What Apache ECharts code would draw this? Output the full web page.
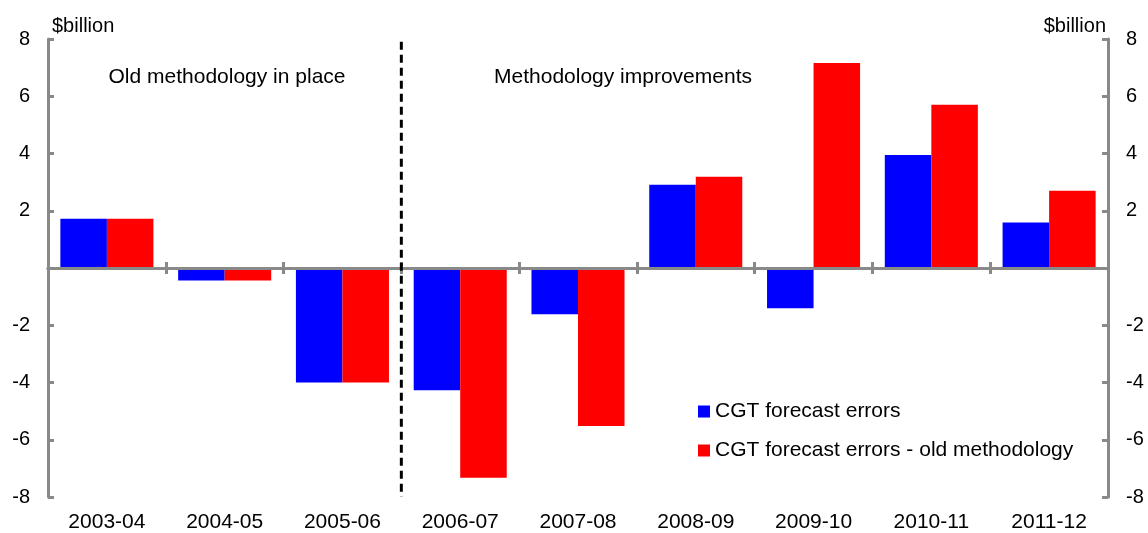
<!DOCTYPE html>
<html>
<head>
<meta charset="utf-8">
<script src="https://cdn.jsdelivr.net/npm/echarts@6/dist/echarts.min.js"></script>
<style>
html,body{margin:0;padding:0;background:#fff;}
#chart{width:1148px;height:533px;}
</style>
</head>
<body>
<div id="chart"></div>
<script>
var categories = ['2003-04','2004-05','2005-06','2006-07','2007-08','2008-09','2009-10','2010-11','2011-12'];
var cgtErrors = [1.72, -0.44, -4.0, -4.27, -1.62, 2.91, -1.41, 3.95, 1.59];
var cgtErrorsOld = [1.72, -0.44, -4.0, -7.33, -5.52, 3.19, 7.16, 5.70, 2.70];
var seriesNames = ['CGT forecast errors', 'CGT forecast errors - old methodology'];
var yTicks = {min: -8, max: 8, interval: 2};
var dividerLine = [[3, 7.9], [3, -8]];
var annotations = ['Old methodology in place', 'Methodology improvements'];
var unitLabel = '$billion';

var FONT = '"Liberation Sans", Arial, sans-serif';
var GRAY = '#898989';

var chart = echarts.init(document.getElementById('chart'), null, {renderer: 'canvas'});

function yAxisCfg(pos) {
  return {
    type: 'value', position: pos,
    min: yTicks.min, max: yTicks.max, interval: yTicks.interval,
    axisLine: {show: true, lineStyle: {color: GRAY, width: 3}},
    axisTick: {show: true, inside: true, length: 6, lineStyle: {color: GRAY, width: 3}},
    splitLine: {show: false},
    axisLabel: {
      margin: 18, fontSize: 20, color: '#000', fontFamily: FONT,
      formatter: function (v) { return v === 0 ? '' : String(v); }
    }
  };
}

function zeroAxis(inside) {
  return {
    type: 'category', data: categories, position: 'bottom', z: 5,
    axisLine: {show: true, onZero: true, lineStyle: {color: GRAY, width: 3}},
    axisTick: {show: true, inside: inside, length: 6, lineStyle: {color: GRAY, width: 3}},
    axisLabel: {show: false},
    splitLine: {show: false}
  };
}

var option = {
  animation: false,
  backgroundColor: '#fff',
  grid: {left: 48, right: 40, top: 39, bottom: 35, containLabel: false},
  legend: {
    orient: 'vertical', left: 698, top: 401, padding: 0,
    itemWidth: 12, itemHeight: 12, itemGap: 18, icon: 'rect',
    selectedMode: false,
    textStyle: {fontSize: 21, color: '#000', fontFamily: FONT},
    data: seriesNames
  },
  xAxis: [
    {
      type: 'category', data: categories, position: 'bottom',
      axisLine: {show: false, onZero: false},
      axisTick: {show: false},
      axisLabel: {fontSize: 21, color: '#000', fontFamily: FONT, margin: 15},
      splitLine: {show: false}
    },
    zeroAxis(true),
    zeroAxis(false),
    {
      type: 'value', min: 0, max: categories.length, show: false
    }
  ],
  yAxis: [yAxisCfg('left'), yAxisCfg('right')],
  graphic: [
    {type: 'text', left: 52, top: 16, style: {text: unitLabel, fontSize: 20, fontFamily: FONT, fill: '#000'}},
    {type: 'text', right: 42, top: 16, style: {text: unitLabel, fontSize: 20, fontFamily: FONT, fill: '#000'}},
    {type: 'text', x: 227, y: 77, style: {text: annotations[0], fontSize: 21, fontFamily: FONT, fill: '#000', align: 'center', verticalAlign: 'middle'}},
    {type: 'text', x: 623, y: 77, style: {text: annotations[1], fontSize: 21, fontFamily: FONT, fill: '#000', align: 'center', verticalAlign: 'middle'}}
  ],
  series: [
    {
      name: seriesNames[0], type: 'bar', xAxisIndex: 0, yAxisIndex: 0,
      data: cgtErrors, barGap: '0%', barCategoryGap: '21%',
      itemStyle: {color: '#0000ff'}
    },
    {
      name: seriesNames[1], type: 'bar', xAxisIndex: 0, yAxisIndex: 0,
      data: cgtErrorsOld, barGap: '0%', barCategoryGap: '21%',
      itemStyle: {color: '#ff0000'}
    },
    {
      name: 'divider', type: 'line', xAxisIndex: 3, yAxisIndex: 0,
      data: dividerLine, symbol: 'none', silent: true, z: 6,
      lineStyle: {color: '#000', width: 3, type: [8, 5]}
    }
  ]
};
chart.setOption(option);
</script>
</body>
</html>
